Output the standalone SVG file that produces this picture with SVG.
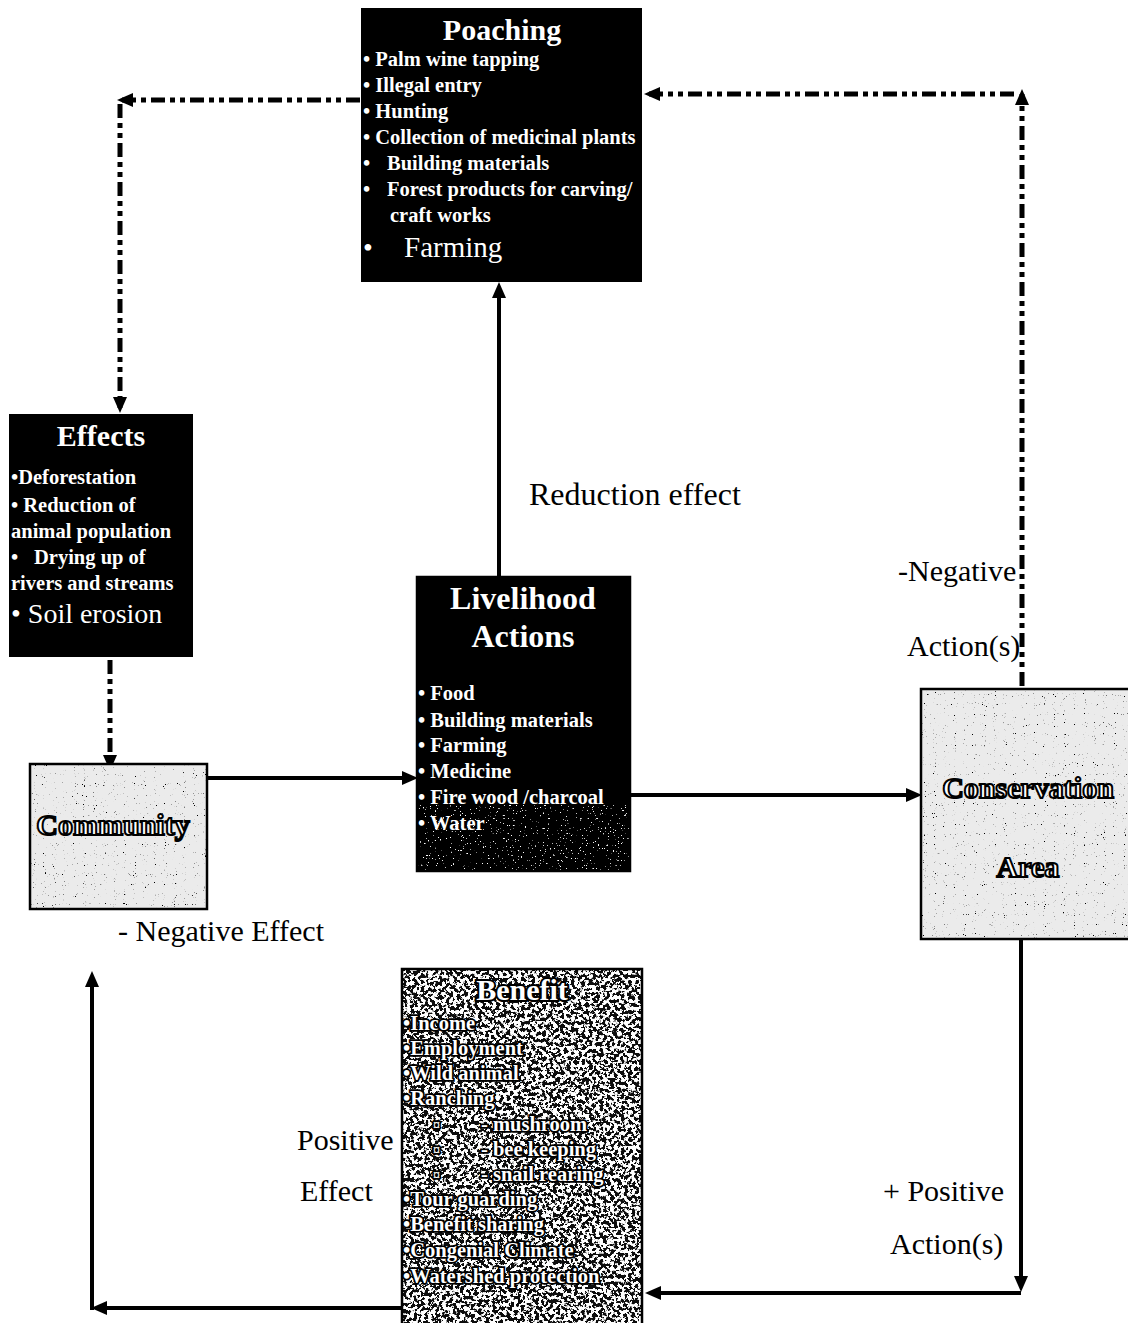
<svg xmlns="http://www.w3.org/2000/svg" width="1128" height="1323" viewBox="0 0 1128 1323">
<defs>
  <marker id="ah" markerUnits="userSpaceOnUse" markerWidth="16" markerHeight="14" refX="11" refY="7" orient="auto">
    <path d="M0,0 L16,7 L0,14 z" fill="#000"/>
  </marker>
  <filter id="fLight" x="0" y="0" width="1" height="1">
    <feTurbulence type="fractalNoise" baseFrequency="0.9" numOctaves="1" seed="4" result="n"/>
    <feColorMatrix in="n" type="matrix" values="0 0 0 0 0  0 0 0 0 0  0 0 0 0 0  14 0 0 0 -9.6" result="dots"/>
    <feFlood flood-color="#ebebeb" result="bg"/>
    <feComposite in="dots" in2="bg" operator="over"/>
  </filter>
  <filter id="fHeavy" x="0" y="0" width="1" height="1">
    <feTurbulence type="fractalNoise" baseFrequency="0.28" numOctaves="3" seed="7" result="n"/>
    <feColorMatrix in="n" type="matrix" values="0 0 0 0 1  0 0 0 0 1  0 0 0 0 1  18 0 0 0 -8.6" result="dots"/>
    <feFlood flood-color="#111" result="bg"/>
    <feComposite in="dots" in2="bg" operator="over"/>
  </filter>
  <filter id="fDark" x="0" y="0" width="1" height="1">
    <feTurbulence type="fractalNoise" baseFrequency="0.6" numOctaves="2" seed="2" result="n"/>
    <feColorMatrix in="n" type="matrix" values="0 0 0 0 1  0 0 0 0 1  0 0 0 0 1  14 0 0 0 -9.8" result="dots"/>
    <feFlood flood-color="#000" result="bg"/>
    <feComposite in="dots" in2="bg" operator="over"/>
  </filter>
</defs>
<style>
  text { font-family: "Liberation Serif", "Times New Roman", serif; }
  .box { fill: #000; stroke: #000; stroke-width: 2; }
  .edge { fill: none; stroke: #000; stroke-width: 2.5; }
  .title { fill: #fff; font-weight: bold; font-size: 30px; text-anchor: middle; }
  .item { fill: #fff; font-weight: bold; font-size: 20.5px; }
  .big { fill: #fff; font-size: 28px; }
  .emb { fill: #fff; stroke: #000; stroke-width: 2; font-weight: bold; font-size: 30px; text-anchor: middle; }
  .bitem { fill: #fff; stroke: #000; stroke-width: 3.5; paint-order: stroke; font-weight: bold; font-size: 20.5px; }
  .btitle { fill: #fff; stroke: #000; stroke-width: 4; paint-order: stroke; font-weight: bold; font-size: 30px; text-anchor: middle; }
  .lbl { fill: #000; font-size: 30px; }
  .solid { fill: none; stroke: #000; stroke-width: 4; marker-end: url(#ah); }
  .dash { fill: none; stroke: #000; stroke-width: 5; stroke-dasharray: 14 5 5 5 5 5; marker-end: url(#ah); }
</style>

<g id="connectors">
  <line class="dash" x1="360" y1="100" x2="122" y2="100"/>
  <line class="dash" x1="120" y1="104" x2="120" y2="408"/>
  <line class="dash" x1="110" y1="660" x2="110" y2="766"/>
  <line class="dash" x1="1022" y1="686" x2="1022" y2="94"/>
  <line class="dash" x1="1014" y1="94" x2="649" y2="94"/>
  <line class="solid" x1="207" y1="778" x2="413" y2="778"/>
  <line class="solid" x1="630" y1="795" x2="917" y2="795"/>
  <line class="solid" x1="499" y1="577" x2="499" y2="287"/>
  <line class="solid" x1="1021" y1="939" x2="1021" y2="1287"/>
  <line class="solid" x1="1021" y1="1293" x2="650" y2="1293"/>
  <line class="solid" x1="402" y1="1308" x2="96" y2="1308"/>
  <line class="solid" x1="92" y1="1310" x2="92" y2="976"/>
</g>

<g id="poaching">
  <rect class="box" x="362" y="9" width="279" height="272"/>
  <text class="title" x="502" y="40">Poaching</text>
  <text class="item" x="363" y="66">• Palm wine tapping</text>
  <text class="item" x="363" y="92">• Illegal entry</text>
  <text class="item" x="363" y="118">• Hunting</text>
  <text class="item" x="363" y="144">• Collection of medicinal plants</text>
  <text class="item" x="363" y="170">•</text>
  <text class="item" x="387" y="170">Building materials</text>
  <text class="item" x="363" y="196">•</text>
  <text class="item" x="387" y="196">Forest products for carving/</text>
  <text class="item" x="390" y="222">craft works</text>
  <text class="big" x="363" y="257">•</text>
  <text class="big" x="404" y="257" style="font-size:29px">Farming</text>
</g>

<g id="effects">
  <rect class="box" x="10" y="415" width="182" height="241"/>
  <text class="title" x="101" y="446">Effects</text>
  <text class="item" x="11" y="484">•Deforestation</text>
  <text class="item" x="11" y="512">• Reduction of</text>
  <text class="item" x="11" y="538">animal population</text>
  <text class="item" x="11" y="564">•</text>
  <text class="item" x="34" y="564">Drying up of</text>
  <text class="item" x="11" y="590">rivers and streams</text>
  <text class="big" x="11" y="623">• Soil erosion</text>
</g>

<g id="community">
  <rect x="30" y="764" width="177" height="145" filter="url(#fLight)"/>
  <rect class="edge" x="30" y="764" width="177" height="145"/>
  <text class="emb" x="113" y="835">Community</text>
</g>

<g id="livelihood">
  <rect x="417" y="577" width="213" height="294" fill="#000"/>
  <rect x="417" y="805" width="213" height="66" filter="url(#fDark)"/>
  <rect class="edge" x="417" y="577" width="213" height="294"/>
  <text class="title" x="523" y="609" style="font-size:32px">Livelihood</text>
  <text class="title" x="523" y="647" style="font-size:32px">Actions</text>
  <text class="item" x="418" y="700">• Food</text>
  <text class="item" x="418" y="727">• Building materials</text>
  <text class="item" x="418" y="752">• Farming</text>
  <text class="item" x="418" y="778">• Medicine</text>
  <text class="item" x="418" y="804">• Fire wood /charcoal</text>
  <text class="item" x="418" y="830">• Water</text>
</g>

<g id="conservation">
  <rect x="921" y="689" width="207" height="250" filter="url(#fLight)"/>
  <rect class="edge" x="921" y="689" width="210" height="250"/>
  <text class="emb" x="1028" y="798">Conservation</text>
  <text class="emb" x="1028" y="877">Area</text>
</g>

<g id="benefit">
  <rect x="402" y="969" width="240" height="354" filter="url(#fHeavy)"/>
  <rect class="edge" x="402" y="969" width="240" height="356"/>
  <text class="btitle" x="522" y="1000">Benefit</text>
  <text class="bitem" x="403" y="1030">•Income</text>
  <text class="bitem" x="403" y="1055">•Employment</text>
  <text class="bitem" x="403" y="1080">•Wild animal</text>
  <text class="bitem" x="403" y="1105">•Ranching</text>
  <text class="bitem" x="433" y="1130" style="font-size:14px">¤</text>
  <text class="bitem" x="481" y="1131">- mushroom</text>
  <text class="bitem" x="433" y="1155" style="font-size:14px">¤</text>
  <text class="bitem" x="481" y="1156">- bee keeping</text>
  <text class="bitem" x="433" y="1180" style="font-size:14px">¤</text>
  <text class="bitem" x="481" y="1181">- snail rearing</text>
  <text class="bitem" x="403" y="1206">•Tour guarding</text>
  <text class="bitem" x="403" y="1231">•Benefit sharing</text>
  <text class="bitem" x="403" y="1257">•Congenial Climate</text>
  <text class="bitem" x="403" y="1283">•Watershed protection</text>
</g>

<g id="labels">
  <text class="lbl" x="529" y="505" style="font-size:32px">Reduction effect</text>
  <text class="lbl" x="898" y="581">-Negative</text>
  <text class="lbl" x="907" y="656">Action(s)</text>
  <text class="lbl" x="118" y="941">- Negative Effect</text>
  <text class="lbl" x="297" y="1150">Positive</text>
  <text class="lbl" x="300" y="1201">Effect</text>
  <text class="lbl" x="883" y="1201">+ Positive</text>
  <text class="lbl" x="890" y="1254">Action(s)</text>
</g>
</svg>
